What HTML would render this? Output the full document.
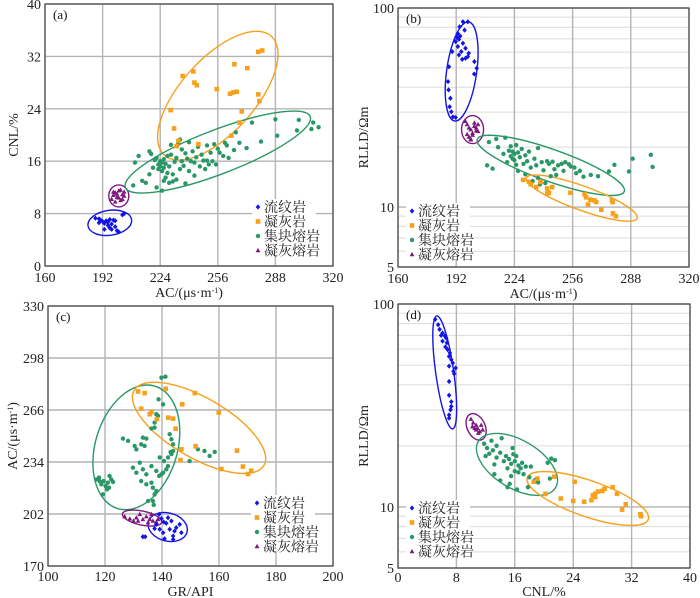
<!DOCTYPE html>
<html><head><meta charset="utf-8">
<style>
html,body{margin:0;padding:0;background:#fff;}
svg{display:block;font-family:"Liberation Serif","Noto Serif CJK SC",serif;}
</style></head>
<body>
<svg id="chart" width="700" height="598" viewBox="0 0 700 598" xmlns="http://www.w3.org/2000/svg"></svg>
<script>
// ---------- Panel (a): AC vs CNL ----------
const aTicksX=[160,192,224,256,288,320];
const aTicksY=[0,8,16,24,32,40];
const aRhyAC=[188,190,191,192,193,194,195,196,197,198,199,200,201,199,193,196,203,204,190,195,197];
const aRhyCNL=[7.3,7.2,7.0,6.8,6.5,6.9,6.2,5.8,6.4,7.0,6.0,5.4,5.2,6.9,5.6,7.1,7.8,8.0,6.6,6.7,5.6];
const aTufAC=[278.5,280.7,265.2,272.4,242.4,236.5,243,244.3,255.4,262.8,264.6,266.5,278.5,279.1,229.8,269.3,268,231.7,263.5,234.1,245.2,233.1];
const aTufCNL=[32.7,32.9,30.8,30.2,29.7,29.0,28.0,27.6,27.0,26.3,26.5,26.6,26.2,25.2,23.8,23.6,21.9,21.0,19.9,19.1,18.6,18.3];
const aAggAC=[209,210,212,214,216,218,219,220,221,222,222,223,223,224,224,225,225,225,226,226,227,227,228,228,229,229,230,231,232,233,233,234,235,236,236,237,238,238,239,240,240,241,242,243,243,244,245,246,247,248,249,250,250,251,252,253,254,255,256,257,259,260,261,262,265,266,268,272,275,280,288,289,300,301,308,309,312,235,230,218,226,231];
const aAggCNL=[12.3,15.8,16.8,13.0,12.7,14.0,17.1,15.0,16.2,12.0,16.5,15.5,14.8,16.0,15.2,11.5,15.8,14.5,16.3,15.0,13.5,15.6,14.2,16.8,12.7,15.2,17.0,14.0,15.9,13.2,16.5,18.7,14.8,16.0,17.8,15.3,12.6,17.2,16.4,14.5,18.9,16.0,17.5,15.8,13.8,16.6,18.2,15.2,17.0,16.1,14.8,18.4,16.1,15.5,17.3,16.0,18.6,15.5,17.9,17.3,16.8,18.8,18.4,16.5,17.7,20.4,18.8,18.0,21.9,19.0,22.4,19.9,20.7,22.3,20.9,21.9,21.2,19.3,18.5,17.5,13.0,12.9];
const aWtfAC=[197,198,199,200,201,202,203,204,199,200,201,202,203,198,204];
const aWtfCNL=[10.2,10.8,11.2,10.5,11.5,10.0,10.9,11.3,9.8,11.0,10.4,11.6,10.2,11.3,10.7];

// ---------- Panel (b): AC vs RLLD (log) ----------
const bTicksX=[160,192,224,256,288,320];
const bTicksY=[5,10,100];
const bRhyAC=[195.7,198.4,193.9,196.6,192.9,194.2,192.4,193.5,191.7,195.7,192.9,197.1,189.8,194.8,198.9,193.5,195.3,197.1,198.4,202,188,203.3,201.9,187.5,187.8,188.8,188.4,189.3,190.2,191.7];
const bRhyRLLD=[85.3,85.3,80.5,77.4,74.5,72.3,71.2,69.6,67.8,66.5,64.0,62.8,60.4,60.4,59.3,58.1,55.2,55.9,57.0,53.8,50.7,49.8,46.6,42.7,38.8,35.2,31.9,30.1,28.4,28.2];
const bWtfAC=[197,198,199,200,201,202,203,204,199,200,201,202,203,198,204,200];
const bWtfRLLD=[27,26,25,24.5,23.5,26.5,25,24,22.5,22,23,25.5,24.2,23.2,26,21.8];
const bAggAC=[209,212,210,214,215,218,219,220,221,222,222,223,223,224,224,225,225,226,226,227,228,229,230,230,231,232,233,234,235,236,237,237,238,239,240,241,242,243,244,245,246,247,248,250,251,252,254,255,257,258,260,262,266,270,276,279,287,289,299,300];
const bAggRLLD=[16.2,15.6,21.2,22,20,18.5,22.3,16.8,19.2,18,20.2,17.5,19.0,18.5,17.2,20.5,16.3,18.8,15.2,17.8,19.6,16.5,18.2,14.6,17.0,19.0,15.8,13.5,17.5,16.2,14.0,19.8,13.0,16.8,15.3,13.2,17.0,16.5,14.3,16.9,15.5,14.5,16.2,16.5,15.2,16.8,16.4,16.0,15.8,14.8,15.2,14.2,14.5,14.3,15.1,16.3,15.1,17.5,18.3,15.9];
const bTufAC=[228.8,232,236,242,243,244.8,242,254.8,262.6,263.4,264.5,265.8,268,269,271.8,277.6,278,278.2,279.8,233,238.4];
const bTufRLLD=[13.7,13.4,12.6,12.4,11.8,12.6,11.7,11.8,11.6,11.2,10.3,10.9,10.8,10.6,9.7,10.8,10.6,9.3,9.0,13.0,13.4];

// ---------- Panel (c): GR vs AC ----------
const cTicksX=[100,120,140,160,180,200];
const cTicksY=[170,202,234,266,298,330];
const cAggGR=[139.8,141.2,138.8,140.4,138,138.6,137.4,136.3,137.4,126.3,128.1,133.3,134.5,130.4,131,132.7,133.9,142.7,143.3,143.9,143,143.3,142.1,143.9,149.7,152.6,154.9,156.7,158.5,139.2,140.7,142.1,129.8,131,133.3,134.5,136.3,138,139.8,132.7,134.5,136.3,136.8,138,137.4,135.1,136.8,137.1,139,140.4,141.5,132.2,117,118.1,118.7,119.5,120.2,121,121.6,122.2,122.8,120.7,119.3,121.4,117.9];
const cAggAC=[285.9,286.5,272.6,269.5,263.4,262.4,258.3,254.6,255.2,248.4,247,249,248.4,243.9,241.8,244.9,243.9,251.1,248,244.9,240.1,238.9,236.8,240.8,234.6,241.8,240.8,237.7,240.2,236.8,234.6,231.5,230.5,227.4,229.5,226.4,231.5,228.5,226.4,222.3,220.3,221.3,218.2,216.2,214.1,210,210,207.6,225.4,227.4,229.5,233.6,223.3,222.3,220.3,222.3,219.2,221.3,225.4,223.3,221.7,217.2,214.1,218.2,224.4];
const cTufGR=[131.6,133.9,141.3,151.5,132.7,136.3,135.7,138.2,142.2,143.9,147.1,159.9,144.8,151.8,146.8,146.5,166.3,160.8,168.4,171.3,170.2];
const cTufAC=[277.4,276.4,279,276.4,266.8,264.8,263.4,260.3,261.3,260.7,269.5,264.4,254.5,243.7,241.8,235.2,241,229.7,231.2,228.7,226.6];
const cRhyGR=[133.3,134.1,139,140.6,141.5,143.3,142.7,144.4,146.2,146.8,143.9,140.4,139.2,137.4,140.9,142.1,138,139.8,143.9,145];
const cRhyAC=[188,188,201.8,197.1,196.3,197.7,192.6,191.5,195.6,190.5,188.5,190.5,192.6,193,186.8,199.7,195.6,199.2,186.4,193.6];
const cWtfGR=[126.9,128.7,131,132.2,131.6,134.5,135.7,136.8,138,133.3,130,135.1,136.3,138.6];
const cWtfAC=[200.4,199.1,199.7,201.8,197.7,200.4,198.7,197.7,197.1,198.7,197.7,196.7,201.8,198.7];

// ---------- Panel (d): CNL vs RLLD (log) ----------
const dTicksX=[0,8,16,24,32,40];
const dTicksY=[5,10,100];
const dRhyCNL=[5.1,5.5,5.7,6.1,5.9,6.4,6.6,6.1,6.7,6.5,6.8,7.1,7.0,7.3,7.5,7.0,7.9,7.6,7.7,7.0,7.0,7.3,7.3,7.2,7.0,7.0];
const dRhyRLLD=[84,79,75,72,70,69.6,68,65.6,64.4,61.5,59.6,57.4,55.2,53.2,51.2,49.4,48.4,46.6,45.3,41.5,35.5,33,31.3,30.1,28.4,27.4];
const dWtfCNL=[10,10.3,10.7,10.9,11.2,10.5,11.4,11.0,10.7,10.2,11.6];
const dWtfRLLD=[27.1,26,25.3,24.4,23.5,24.4,25.3,23.1,24,24.9,24];
const dAggCNL=[11.8,12.2,12.5,12.8,13.0,13.5,13.2,14.0,14.2,14.5,14.8,15.0,15.2,15.5,15.5,15.8,16.0,16.0,16.2,16.5,16.5,15.3,15.0,16.8,17.0,17.2,17.5,18.0,18.2,16.3,13.2,14.0,18.8,19.2,20.5,21.0,21.5,20.8,13.5,15.7,12.0,17.8];
const dAggRLLD=[20.5,19.5,18.3,21.2,19.0,17.5,16.2,18.5,21.8,16.8,17.8,15.5,17.2,16.3,14.2,18.2,16.8,15.0,17.8,16.0,14.8,13.0,12.5,15.5,16.5,14.5,15.8,14.0,15.8,12.2,14.5,13.5,13.6,13.2,16.5,17.3,17.0,13.8,20.0,19.5,17.8,12.5];
const dTufCNL=[18.6,19.1,21.4,20.2,22.3,24.0,24.2,25.5,26.5,26.7,27.0,27.0,27.4,28.0,28.3,29.4,30.0,30.7,31.2,33.2,33.3];
const dTufRLLD=[13.3,13.8,14.1,11.6,11.0,10.7,13.3,10.6,10.8,11.4,11.2,11.6,11.9,12.0,12.3,12.5,11.6,9.7,10.3,9.2,9.0];

const legendNames=["流纹岩","凝灰岩","集块熔岩","凝灰熔岩"];
const COL={rhy:"#1414e6",tuf:"#f7a01c",agg:"#2a9866",wtf:"#7d1a7d"};
const NS="http://www.w3.org/2000/svg";
const svg=document.getElementById('chart');
function mk(tag,attrs,parent){const e=document.createElementNS(NS,tag);for(const k in attrs)e.setAttribute(k,attrs[k]);(parent||svg).appendChild(e);return e;}

function linScale(d0,d1,p0,p1){return v=>p0+(v-d0)/(d1-d0)*(p1-p0);}
function logScale(d0,d1,p0,p1){return v=>p0+(Math.log10(v)-Math.log10(d0))/(Math.log10(d1)-Math.log10(d0))*(p1-p0);}

function marker(g,type,x,y,name){
  let e;
  if(type==="rhy"){e=mk('polygon',{points:`${x},${y-2.6} ${x+2.3},${y} ${x},${y+2.6} ${x-2.3},${y}`,fill:COL.rhy},g);}
  else if(type==="tuf"){e=mk('rect',{x:x-2.3,y:y-2.3,width:4.6,height:4.6,fill:COL.tuf},g);}
  else if(type==="agg"){e=mk('circle',{cx:x,cy:y,r:2.2,fill:COL.agg},g);}
  else {e=mk('polygon',{points:`${x},${y-2.6} ${x+2.4},${y+1.8} ${x-2.4},${y+1.8}`,fill:COL.wtf},g);}
  
  
  return e;
}

function panel(opt){
  const g=mk('g',{});
  
  
  const {L,R,T,B}=opt;
  const sx=linScale(opt.x0,opt.x1,L,R);
  const sy=opt.log?logScale(opt.y0,opt.y1,B,T):linScale(opt.y0,opt.y1,B,T);
  if(opt.log){
    const minors=[6,7,8,9,20,30,40,50,60,70,80,90];
    minors.forEach(v=>{const y=sy(v);const l=mk('line',{x1:L,x2:R,y1:y,y2:y,stroke:"#dcdcdc","stroke-width":1},g);
      
      });
  }
  opt.ticksX.forEach(v=>{const x=sx(v);
    const l=mk('line',{x1:x,x2:x,y1:T,y2:B,stroke:"#b4b4b4","stroke-width":1.4},g);
    
    
    const t=mk('text',{x:x,y:B+opt.tickOff,"text-anchor":"middle","font-size":14,fill:"#222"},g);t.textContent=v;
    
    });
  opt.ticksY.forEach(v=>{const y=sy(v);
    const l=mk('line',{x1:L,x2:R,y1:y,y2:y,stroke:"#b4b4b4","stroke-width":1.4},g);
    
    
    const t=mk('text',{x:L-4,y:y+5,"text-anchor":"end","font-size":14,fill:"#222"},g);t.textContent=v;
    
    });
  const fr=mk('rect',{x:L,y:T,width:R-L,height:B-T,fill:"none",stroke:"#444","stroke-width":1.2},g);
  
  
  const pl=mk('text',{x:L+8,y:T+15,"font-size":13,fill:"#111"},g);pl.textContent=opt.label;
  
  
  const xt=mk('text',{x:(L+R)/2,y:B+opt.xTitleOff,"text-anchor":"middle","font-size":14,fill:"#222"},g);
  xt.innerHTML=opt.xTitle;
  
  
  const yx=opt.yTitleX, yy=(T+B)/2;
  const yt=mk('text',{x:yx,y:yy,"text-anchor":"middle","font-size":14,fill:"#222",transform:`rotate(-90 ${yx} ${yy})`},g);
  yt.innerHTML=opt.yTitle;
  
  
  opt.ellipses.forEach(e=>{const cx=sx(e.cx),cy=sy(e.cy);
    const el=mk('ellipse',{cx:cx,cy:cy,rx:e.rx,ry:e.ry,fill:"none",stroke:COL[e.k],"stroke-width":1.4,transform:`rotate(${e.rot} ${cx} ${cy})`},g);
    
    });
  opt.series.forEach(s=>{const sg=mk('g',{},g);
    
    
    s.xs.forEach((v,i)=>marker(sg,s.k,sx(v),sy(s.ys[i]),s.k+'-point'));});
  const lg=mk('g',{},g);
  
  
  const [lx,ly]=opt.legendPos;
  const bg=mk('rect',{x:lx-6,y:ly-8,width:64,height:57,fill:"#fff"},lg);
  
  
  ["rhy","tuf","agg","wtf"].forEach((k,i)=>{const y=ly+i*14.5;
    marker(lg,k,lx,y,'legend-marker');
    const t=mk('text',{x:lx+6,y:y+5,"font-size":14,fill:"#222","font-family":"\"Liberation Serif\",\"Noto Serif CJK SC\",serif"},lg);
    t.textContent=legendNames[i];
    
    });
}

const AC_TITLE='AC/(μs·m<tspan baseline-shift="super" font-size="8">-1</tspan>)';
panel({name:"panel-a",label:"(a)",L:45,R:333,T:4,B:266,x0:160,x1:320,y0:0,y1:40,log:false,ticksX:aTicksX,ticksY:aTicksY,
  tickOff:16,xTitle:AC_TITLE,xTitleOff:31,yTitle:"CNL/%",yTitleX:18,legendPos:[258,207],
  ellipses:[{k:"rhy",cx:196,cy:6.6,rx:22,ry:12.5,rot:-8},{k:"wtf",cx:201,cy:10.7,rx:10,ry:11,rot:0},
    {k:"tuf",cx:256,cy:26,rx:80,ry:37,rot:-48},{k:"agg",cx:256,cy:17.4,rx:99,ry:22,rot:-21}],
  series:[{k:"agg",xs:aAggAC,ys:aAggCNL},{k:"tuf",xs:aTufAC,ys:aTufCNL},{k:"wtf",xs:aWtfAC,ys:aWtfCNL},{k:"rhy",xs:aRhyAC,ys:aRhyCNL}]});

panel({name:"panel-b",label:"(b)",L:398,R:689,T:8,B:267,x0:160,x1:320,y0:5,y1:100,log:true,ticksX:bTicksX,ticksY:bTicksY,
  tickOff:16,xTitle:AC_TITLE,xTitleOff:31,yTitle:"RLLD/Ωm",yTitleX:368,legendPos:[412,211],
  ellipses:[{k:"rhy",cx:195,cy:48,rx:15,ry:50,rot:8},{k:"wtf",cx:201,cy:24.5,rx:11,ry:14,rot:0},
    {k:"agg",cx:244,cy:16.2,rx:78,ry:16,rot:19.5},{k:"tuf",cx:261,cy:11.1,rx:59,ry:12,rot:20}],
  series:[{k:"agg",xs:bAggAC,ys:bAggRLLD},{k:"tuf",xs:bTufAC,ys:bTufRLLD},{k:"wtf",xs:bWtfAC,ys:bWtfRLLD},{k:"rhy",xs:bRhyAC,ys:bRhyRLLD}]});

panel({name:"panel-c",label:"(c)",L:48,R:333,T:306,B:566,x0:100,x1:200,y0:170,y1:330,log:false,ticksX:cTicksX,ticksY:cTicksY,
  tickOff:15,xTitle:"GR/API",xTitleOff:30,yTitle:AC_TITLE,yTitleX:17,legendPos:[257,503],
  ellipses:[{k:"agg",cx:131,cy:243,rx:41,ry:64,rot:17},{k:"tuf",cx:153,cy:255,rx:75,ry:30,rot:30},
    {k:"rhy",cx:142,cy:194,rx:20,ry:14,rot:15},{k:"wtf",cx:133,cy:199.5,rx:20,ry:7,rot:12}],
  series:[{k:"agg",xs:cAggGR,ys:cAggAC},{k:"tuf",xs:cTufGR,ys:cTufAC},{k:"wtf",xs:cWtfGR,ys:cWtfAC},{k:"rhy",xs:cRhyGR,ys:cRhyAC}]});

panel({name:"panel-d",label:"(d)",L:398,R:690,T:304,B:568,x0:0,x1:40,y0:5,y1:100,log:true,ticksX:dTicksX,ticksY:dTicksY,
  tickOff:14,xTitle:"CNL/%",xTitleOff:28,yTitle:"RLLD/Ωm",yTitleX:368,legendPos:[412,508],
  ellipses:[{k:"rhy",cx:6.4,cy:46,rx:9,ry:57,rot:-8},{k:"wtf",cx:10.7,cy:24.8,rx:9,ry:14,rot:-25},
    {k:"agg",cx:16.3,cy:16.2,rx:45,ry:24,rot:31},{k:"tuf",cx:26.0,cy:11.0,rx:64,ry:18,rot:19}],
  series:[{k:"agg",xs:dAggCNL,ys:dAggRLLD},{k:"tuf",xs:dTufCNL,ys:dTufRLLD},{k:"wtf",xs:dWtfCNL,ys:dWtfRLLD},{k:"rhy",xs:dRhyCNL,ys:dRhyRLLD}]});
</script>
</body></html>
